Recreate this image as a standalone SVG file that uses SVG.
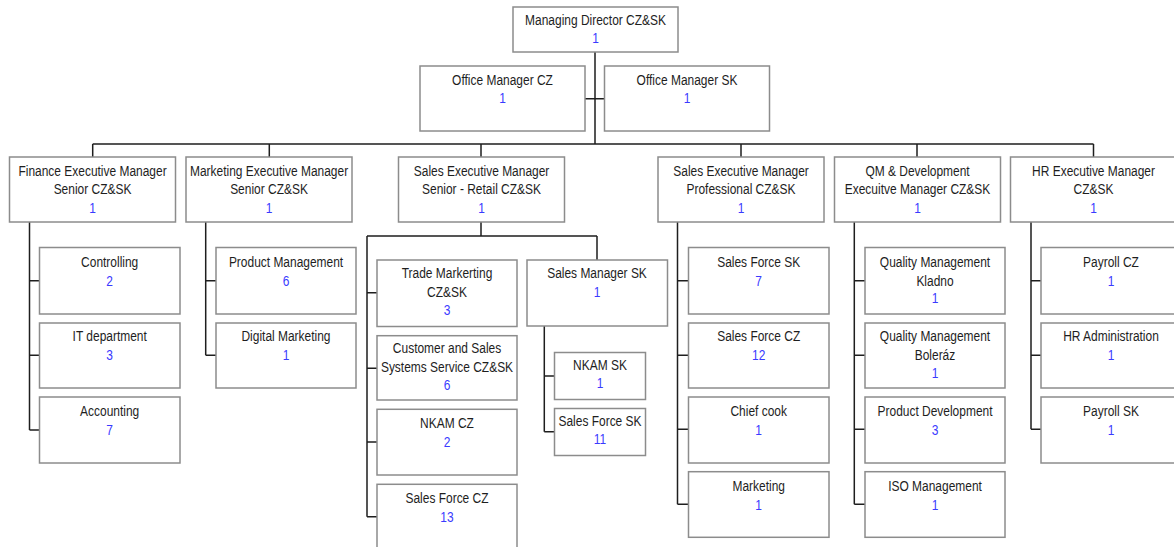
<svg xmlns="http://www.w3.org/2000/svg" width="1174" height="547" viewBox="0 0 1174 547">
<style>
.bg{fill:#fff}
.box{fill:#fff;stroke:#8c8c8c;stroke-width:1.5}
.c{fill:none;stroke:#1e1e1e;stroke-width:1.5}
text{font-family:"Liberation Sans",Arial,sans-serif;font-size:14.5px;fill:#1e1e1e;text-anchor:middle;transform-box:fill-box;transform-origin:center;transform:scaleX(0.825)}
.n{fill:#3a3aff}
</style>
<rect class="bg" x="0" y="0" width="1174" height="547"/>
<g id="connectors">
<path class="c" d="M595,52V144M585,98.7H604.5M92.7,144H1093.5M92.7,144V157M269.3,144V157M481,144V157M741,144V157M917,144V157M1093.5,144V157"/>
<path class="c" d="M29.5,222V430M29.5,280.7H39.5M29.5,355.3H39.5M29.5,430H39.5"/>
<path class="c" d="M205.7,222V355.3M205.7,280.7H216M205.7,355.3H216"/>
<path class="c" d="M481,222V236M367,236H597M597,236V260M367,236V516.7M367,292.7H377M367,368.3H377M367,442H377M367,516.7H377"/>
<path class="c" d="M544.3,326V431.7M544.3,376H554.5M544.3,431.7H554.5"/>
<path class="c" d="M677.5,222V504.3M677.5,280.7H688.5M677.5,355.3H688.5M677.5,429.3H688.5M677.5,504.3H688.5"/>
<path class="c" d="M854.3,222V504.3M854.3,280.7H865M854.3,355.3H865M854.3,429.3H865M854.3,504.3H865"/>
<path class="c" d="M1031,222V429.3M1031,280.7H1041M1031,355.3H1041M1031,429.3H1041"/>
</g>
<g id="md"><rect class="box" x="513" y="7" width="165" height="45"/><text x="595.5" y="25">Managing Director CZ&amp;SK</text><text class="n" x="595.5" y="43">1</text></g>
<g id="omcz"><rect class="box" x="420" y="66" width="165" height="65"/><text x="502.5" y="85">Office Manager CZ</text><text class="n" x="502.5" y="103">1</text></g>
<g id="omsk"><rect class="box" x="604.5" y="66" width="165" height="65"/><text x="687" y="85">Office Manager SK</text><text class="n" x="687" y="103">1</text></g>

<g id="fin"><rect class="box" x="9.5" y="157" width="166" height="65"/><text x="92.5" y="176">Finance Executive Manager</text><text x="92.5" y="194">Senior CZ&amp;SK</text><text class="n" x="92.5" y="213">1</text></g>
<g id="mkt"><rect class="box" x="186" y="157" width="166" height="65"/><text x="269" y="176">Marketing Executive Manager</text><text x="269" y="194">Senior CZ&amp;SK</text><text class="n" x="269" y="213">1</text></g>
<g id="salessr"><rect class="box" x="398.5" y="157" width="166" height="65"/><text x="481.5" y="176">Sales Executive Manager</text><text x="481.5" y="194">Senior - Retail CZ&amp;SK</text><text class="n" x="481.5" y="213">1</text></g>
<g id="salespro"><rect class="box" x="658" y="157" width="166" height="65"/><text x="741" y="176">Sales Executive Manager</text><text x="741" y="194">Professional CZ&amp;SK</text><text class="n" x="741" y="213">1</text></g>
<g id="qm"><rect class="box" x="834.5" y="157" width="166" height="65"/><text x="917.5" y="176">QM &amp; Development</text><text x="917.5" y="194">Execuitve Manager CZ&amp;SK</text><text class="n" x="917.5" y="213">1</text></g>
<g id="hr"><rect class="box" x="1010.5" y="157" width="166" height="65"/><text x="1093.5" y="176">HR Executive Manager</text><text x="1093.5" y="194">CZ&amp;SK</text><text class="n" x="1093.5" y="213">1</text></g>

<g id="controlling"><rect class="box" x="39.5" y="247.5" width="140.5" height="66.5"/><text x="109.7" y="266.7">Controlling</text><text class="n" x="109.7" y="286">2</text></g>
<g id="it"><rect class="box" x="39.5" y="323" width="140.5" height="65"/><text x="109.7" y="341.5">IT department</text><text class="n" x="109.7" y="360.5">3</text></g>
<g id="accounting"><rect class="box" x="39.5" y="397" width="140.5" height="66"/><text x="109.7" y="416">Accounting</text><text class="n" x="109.7" y="435">7</text></g>

<g id="prodmgmt"><rect class="box" x="216" y="247.5" width="140" height="66.5"/><text x="286" y="266.7">Product Management</text><text class="n" x="286" y="286">6</text></g>
<g id="digital"><rect class="box" x="216" y="323" width="140" height="65"/><text x="286" y="341.5">Digital Marketing</text><text class="n" x="286" y="360.5">1</text></g>

<g id="trade"><rect class="box" x="377" y="260" width="140" height="66.5"/><text x="447" y="278.3">Trade Markerting</text><text x="447" y="297.3">CZ&amp;SK</text><text class="n" x="447" y="315">3</text></g>
<g id="customer"><rect class="box" x="377" y="335.7" width="140" height="64.3"/><text x="447" y="353.3">Customer and Sales</text><text x="447" y="371.7">Systems Service CZ&amp;SK</text><text class="n" x="447" y="390">6</text></g>
<g id="nkamcz"><rect class="box" x="377" y="409.3" width="140" height="65.7"/><text x="447" y="428">NKAM CZ</text><text class="n" x="447" y="447">2</text></g>
<g id="sfcz13"><rect class="box" x="377" y="484.3" width="140" height="70"/><text x="447" y="503">Sales Force CZ</text><text class="n" x="447" y="522">13</text></g>

<g id="smsk"><rect class="box" x="527" y="260" width="140.5" height="66"/><text x="597" y="278.3">Sales Manager SK</text><text class="n" x="597" y="297.3">1</text></g>
<g id="nkamsk"><rect class="box" x="554.5" y="352.5" width="91" height="47"/><text x="600" y="370">NKAM SK</text><text class="n" x="600" y="388.3">1</text></g>
<g id="sfsk11"><rect class="box" x="554.5" y="408.5" width="91" height="47"/><text x="600" y="426">Sales Force SK</text><text class="n" x="600" y="444.3">11</text></g>

<g id="sfsk7"><rect class="box" x="688.5" y="247.5" width="140.5" height="66.5"/><text x="758.7" y="266.7">Sales Force SK</text><text class="n" x="758.7" y="286">7</text></g>
<g id="sfcz12"><rect class="box" x="688.5" y="323" width="140.5" height="65"/><text x="758.7" y="341.5">Sales Force CZ</text><text class="n" x="758.7" y="360.5">12</text></g>
<g id="chef"><rect class="box" x="688.5" y="397" width="140.5" height="66"/><text x="758.7" y="416">Chief cook</text><text class="n" x="758.7" y="435">1</text></g>
<g id="marketing"><rect class="box" x="688.5" y="471.7" width="140.5" height="65.6"/><text x="758.7" y="491">Marketing</text><text class="n" x="758.7" y="510">1</text></g>

<g id="qmkladno"><rect class="box" x="865" y="247.5" width="140" height="66.5"/><text x="935" y="266.7">Quality Management</text><text x="935" y="285.7">Kladno</text><text class="n" x="935" y="303.3">1</text></g>
<g id="qmboleraz"><rect class="box" x="865" y="323" width="140" height="65"/><text x="935" y="341.5">Quality Management</text><text x="935" y="360.5">Boleráz</text><text class="n" x="935" y="378">1</text></g>
<g id="proddev"><rect class="box" x="865" y="397" width="140" height="66"/><text x="935" y="416">Product Development</text><text class="n" x="935" y="435">3</text></g>
<g id="iso"><rect class="box" x="865" y="471.7" width="140" height="65.6"/><text x="935" y="491">ISO Management</text><text class="n" x="935" y="510">1</text></g>

<g id="payrollcz"><rect class="box" x="1041" y="247.5" width="140" height="66.5"/><text x="1111" y="266.7">Payroll CZ</text><text class="n" x="1111" y="286">1</text></g>
<g id="hradmin"><rect class="box" x="1041" y="323" width="140" height="65"/><text x="1111" y="341.5">HR Administration</text><text class="n" x="1111" y="360.5">1</text></g>
<g id="payrollsk"><rect class="box" x="1041" y="397" width="140" height="66"/><text x="1111" y="416">Payroll SK</text><text class="n" x="1111" y="435">1</text></g>
</svg>
